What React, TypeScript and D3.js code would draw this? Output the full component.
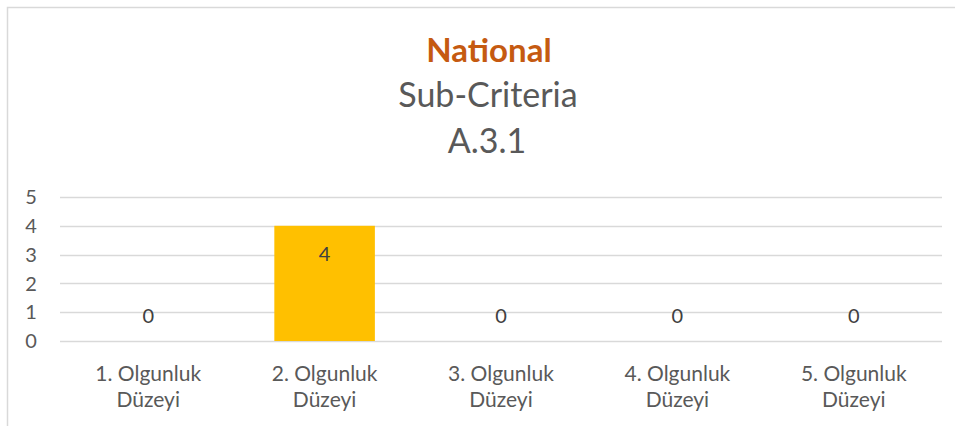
import { useEffect, useRef } from 'react';
import * as d3 from 'd3';

// chart data
const categories = ['1. Olgunluk Düzeyi', '2. Olgunluk Düzeyi', '3. Olgunluk Düzeyi', '4. Olgunluk Düzeyi', '5. Olgunluk Düzeyi'];
const values = [0, 4, 0, 0, 0];
const yTicks = [0, 1, 2, 3, 4, 5];
const titleLines = ['National', 'Sub-Criteria', 'A.3.1'];

const W = 955;
const H = 426;
const FONT = "Lato, 'Open Sans', sans-serif";

const App = () => {
    const svgRef = useRef<SVGSVGElement>(null);

    useEffect(() => {
        const svg = d3.select(svgRef.current);
        svg.selectAll('*').remove();

        // chart frame (runs off right/bottom edge)
        svg.append('rect')
            .attr('x', 7.5)
            .attr('y', 7.5)
            .attr('width', W + 20)
            .attr('height', H + 20)
            .attr('fill', '#fff')
            .attr('stroke', '#d9d9d9')
            .attr('stroke-width', 1.5);

        // titles
        svg.append('text')
            .attr('x', 489)
            .attr('y', 62)
            .attr('text-anchor', 'middle')
            .attr('fill', '#C55A11')
            .style('font-family', FONT)
            .style('font-size', '33px')
            .style('font-weight', '700')
            .text(titleLines[0]);

        svg.append('text')
            .attr('x', 488)
            .attr('y', 107)
            .attr('text-anchor', 'middle')
            .attr('fill', '#595959')
            .style('font-family', FONT)
            .style('font-size', '34px')
            .text(titleLines[1]);

        svg.append('text')
            .attr('x', 487)
            .attr('y', 153)
            .attr('text-anchor', 'middle')
            .attr('fill', '#595959')
            .style('font-family', FONT)
            .style('font-size', '34px')
            .text(titleLines[2]);

        const x = d3.scaleBand()
            .domain(categories)
            .range([60, 942])
            .paddingInner(0.43)
            .paddingOuter(0.215);

        const y = d3.scaleLinear()
            .domain([0, 5])
            .range([341, 197]);

        // gridlines
        svg.append('g')
            .selectAll('line')
            .data(yTicks)
            .join('line')
            .attr('x1', 60)
            .attr('x2', 942)
            .attr('y1', d => Math.round(y(d)) + 0.5)
            .attr('y2', d => Math.round(y(d)) + 0.5)
            .attr('stroke', '#d9d9d9')
            .attr('stroke-width', 1.5);

        // y tick labels
        svg.append('g')
            .selectAll('text')
            .data(yTicks)
            .join('text')
            .attr('x', 31)
            .attr('y', d => y(d))
            .attr('dy', '0.36em')
            .attr('text-anchor', 'middle')
            .attr('fill', '#595959')
            .style('font-family', FONT)
            .style('font-size', '20px')
            .text(d => d);

        // bars
        svg.append('g')
            .selectAll('rect')
            .data(values)
            .join('rect')
            .attr('x', (_, i) => x(categories[i])!)
            .attr('y', d => y(d))
            .attr('width', x.bandwidth())
            .attr('height', d => y(0) - y(d))
            .attr('fill', '#FFC000');

        // value labels
        svg.append('g')
            .selectAll('text')
            .data(values)
            .join('text')
            .attr('x', (_, i) => x(categories[i])! + x.bandwidth() / 2)
            .attr('y', d => (d > 0 ? y(d) + 28 : y(0) - 25))
            .attr('dy', '0.36em')
            .attr('text-anchor', 'middle')
            .attr('fill', '#404040')
            .style('font-family', FONT)
            .style('font-size', '20px')
            .text(d => d);

        // category labels, two lines each
        const cat = svg.append('g')
            .selectAll('text')
            .data(categories)
            .join('text')
            .attr('text-anchor', 'middle')
            .attr('fill', '#595959')
            .style('font-family', FONT)
            .style('font-size', '21px');

        cat.each(function (d) {
            const cx = x(d)! + x.bandwidth() / 2;
            const words = d.split(' ');
            const t = d3.select(this);
            t.append('tspan').attr('x', cx).attr('y', 381).text(words.slice(0, 2).join(' '));
            t.append('tspan').attr('x', cx).attr('y', 407).text(words.slice(2).join(' '));
        });
    }, []);

    return (
        <svg
            ref={svgRef}
            width={W}
            height={H}
            style={{ position: 'absolute', left: 0, top: 0, background: '#fff' }}
        />
    );
};

export default App;
